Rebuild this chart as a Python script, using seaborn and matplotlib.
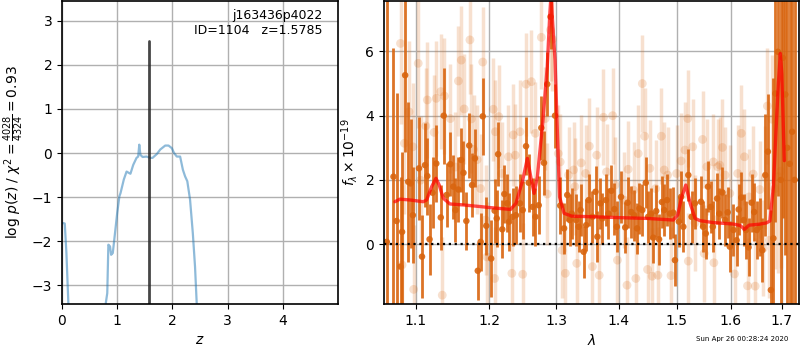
import numpy as np
import pandas as pd
import matplotlib
matplotlib.use("Agg")
import matplotlib.pyplot as plt
from matplotlib.ticker import FixedLocator, FormatStrFormatter, NullLocator
import seaborn as sns

sns.set_style("ticks", {"axes.grid": True, "grid.color": "#b0b0b0",
                        "axes.edgecolor": "black", "text.color": "black",
                        "axes.labelcolor": "black", "xtick.color": "black",
                        "ytick.color": "black"})
plt.rcParams["font.family"] = ["DejaVu Sans"]

# ---- p(z) panel ----
pz_z = [0.0, 0.02, 0.05, 0.08, 0.115, 0.2, 0.5, 0.75, 0.794, 0.82, 0.84, 0.87, 0.89,
        0.92, 0.96, 1.0, 1.04, 1.06, 1.12, 1.17, 1.21, 1.24, 1.29, 1.35, 1.38, 1.40,
        1.42, 1.46, 1.53, 1.60, 1.64, 1.72, 1.78, 1.87, 1.93, 1.99, 2.03, 2.08, 2.14,
        2.19, 2.23, 2.27, 2.32, 2.37, 2.41, 2.44, 2.6, 3.5, 5.0]
pz_logp = [-1.6, -1.59, -1.6, -2.27, -3.4, -8, -8, -8, -3.4, -3.18, -2.08, -2.12, -2.31,
           -2.27, -1.82, -1.36, -0.98, -0.91, -0.6, -0.42, -0.45, -0.47, -0.27, -0.11,
           -0.08, 0.19, -0.04, -0.09, -0.08, -0.11, -0.11, -0.02, 0.08, 0.17, 0.17, 0.11,
           0.0, -0.08, -0.08, -0.38, -0.53, -0.64, -1.06, -1.82, -2.58, -3.4, -8, -8, -8]
z_best = 1.5785
z_line_top = 2.55

# ---- spectrum panel ----
dark_wave = [1.0625, 1.071, 1.075, 1.080, 1.082, 1.086, 1.090, 1.093, 1.096, 1.104, 1.108,
             1.112, 1.115, 1.118, 1.122, 1.127, 1.133, 1.137, 1.141, 1.146, 1.150, 1.153,
             1.157, 1.161, 1.164, 1.168, 1.172, 1.176, 1.180, 1.184, 1.188, 1.191, 1.196,
             1.203, 1.208, 1.211, 1.213, 1.219, 1.222, 1.226, 1.229, 1.234, 1.239, 1.245,
             1.249, 1.254, 1.258, 1.264, 1.268, 1.273, 1.277, 1.281, 1.286, 1.291, 1.298,
             1.306, 1.312, 1.317, 1.321, 1.324, 1.331, 1.335, 1.338, 1.343, 1.347, 1.351,
             1.357, 1.362, 1.365, 1.370, 1.373, 1.379, 1.383, 1.388, 1.393, 1.397, 1.404,
             1.411, 1.415, 1.421, 1.426, 1.431, 1.435, 1.440, 1.446, 1.450, 1.455, 1.459,
             1.464, 1.469, 1.474, 1.478, 1.483, 1.488, 1.494, 1.497, 1.504, 1.508, 1.512,
             1.521, 1.527, 1.533, 1.544, 1.548, 1.553, 1.557, 1.562, 1.566, 1.574, 1.578,
             1.584, 1.589, 1.594, 1.598, 1.605, 1.611, 1.615, 1.620, 1.625, 1.629, 1.634,
             1.640, 1.645, 1.650, 1.656, 1.661, 1.667, 1.672, 1.678, 1.683, 1.687, 1.692,
             1.698, 1.702, 1.707, 1.711, 1.716, 1.721, 1.726]
dark_flux = [0.07, 2.1, 0.72, -0.7, 0.38, 5.26, 1.94, 1.89, 0.90, 2.36, -0.39,
             2.46, 2.12, 0.15, 1.6, 2.51, 0.83, 4.00, 1.53, 2.49, 1.79, 1.06,
             1.7, 2.62, 2.22, 0.72, 3.07, 1.84, 2.67, -0.83, 0.07, 3.98, 0.57,
             -0.45, 1.04, 0.80, 2.80, 0.46, 1.56, 1.27, 0.70, 0.85, 0.90, 1.27,
             1.06, 3.05, 1.91, 1.16, 0.85, 1.21, 3.62, 2.53, 4.98, 7.08, 4.00,
             1.2, 0.49, 1.53, 0.75, 0.95, 0.75, 0.54, 1.06, -0.24, 0.59, 1.37,
             0.85, 1.63, 0.23, 1.27, 0.80, 1.37, 0.95, 1.66, 1.09, 0.54, 1.47,
             0.52, 1.29, 1.00, 0.90, 0.49, 1.11, 1.06, 1.91, 0.85, 0.95, 0.20,
             1.03, 0.15, 1.31, 1.06, 1.37, 0.95, 0.98, -0.50, 0.70, 1.47, 0.54,
             2.15, 0.85, 1.27, 1.32, 0.54, 0.33, 1.79, 1.16, 0.54, 1.42, 0.95,
             1.61, 0.75, 0.99, -0.08, 0.44, 0.12, 1.08, 1.45, 0.75, 0.44, -0.10,
             1.29, 1.00, 0.44, 0.54, -0.19, 2.15, 2.88, -1.43, 0.18, 4.69, 5.99,
             2.0, 5.80, 4.66, 3.0, 2.5, 3.5, 2.0]
dark_err = [9.0, 4.0, 4.0, 2.8, 2.5, 2.4, 2.5, 2.0, 1.5, 1.6, 1.3,
            1.3, 1.2, 1.1, 1.1, 1.2, 1.0, 1.5, 1.0, 1.0, 1.0, 1.0,
            1.0, 1.0, 1.0, 0.9, 1.0, 1.0, 0.9, 0.9, 0.9, 1.2, 0.9,
            1.2, 1.0, 0.9, 1.0, 0.9, 0.9, 0.9, 0.9, 0.9, 0.9, 0.9,
            0.9, 0.9, 0.9, 0.9, 0.9, 0.9, 1.0, 1.0, 1.0, 1.0, 1.0,
            0.9, 0.8, 0.8, 0.8, 0.8, 0.8, 0.8, 0.8, 0.8, 0.8, 0.8,
            0.8, 0.8, 0.8, 0.8, 0.8, 0.8, 0.8, 0.8, 0.8, 0.8, 0.8,
            0.8, 0.8, 0.8, 0.8, 0.8, 0.8, 0.8, 0.8, 0.8, 0.8, 0.8,
            0.8, 0.8, 0.8, 0.8, 0.8, 0.8, 0.8, 0.8, 0.8, 0.8, 0.8,
            0.8, 0.8, 0.8, 0.8, 0.8, 0.8, 0.8, 0.8, 0.8, 0.8, 0.8,
            0.8, 0.8, 0.8, 0.8, 0.8, 0.8, 0.8, 0.8, 0.8, 0.9, 0.9,
            0.9, 0.9, 0.9, 0.9, 1.0, 1.9, 1.8, 2.5, 5.0, 4.0, 4.5,
            6.0, 5.0, 5.0, 6.0, 6.5, 6.5, 7.0]

light_wave = [1.080, 1.082, 1.085, 1.091, 1.096, 1.097, 1.103, 1.106, 1.113, 1.115, 1.124,
              1.127, 1.133, 1.135, 1.138, 1.146, 1.153, 1.157, 1.161, 1.165, 1.173, 1.175,
              1.178, 1.183, 1.188, 1.191, 1.195, 1.197, 1.206, 1.208, 1.209, 1.214, 1.218,
              1.228, 1.233, 1.235, 1.238, 1.245, 1.249, 1.254, 1.262, 1.268, 1.277, 1.283,
              1.286, 1.291, 1.294, 1.303, 1.306, 1.309, 1.314, 1.319, 1.327, 1.329, 1.332,
              1.339, 1.346, 1.352, 1.357, 1.364, 1.368, 1.375, 1.380, 1.390, 1.394, 1.398,
              1.409, 1.414, 1.416, 1.425, 1.429, 1.433, 1.440, 1.444, 1.449, 1.453, 1.457,
              1.463, 1.467, 1.473, 1.478, 1.484, 1.490, 1.500, 1.508, 1.515, 1.520, 1.521,
              1.529, 1.533, 1.547, 1.550, 1.555, 1.567, 1.568, 1.575, 1.579, 1.584, 1.589,
              1.598, 1.607, 1.613, 1.620, 1.626, 1.632, 1.635, 1.643, 1.647, 1.656, 1.663,
              1.667, 1.671, 1.675, 1.680, 1.686, 1.693, 1.698]
light_flux = [6.25, -0.65, 3.14, 4.12, 3.03, -1.41, 5.63, 1.99, 3.68, 4.49, 3.48,
              4.54, 4.75, -1.59, 4.61, 3.91, 2.40, 5.08, 5.73, 4.21, 6.36, 3.90,
              2.95, 2.63, 1.73, 5.67, 0.75, -0.40, 4.20, -1.07, 3.50, 3.97, 2.20,
              2.72, -0.91, 3.40, 2.77, 3.50, -0.94, 4.98, 5.06, 3.45, 6.44, 3.91,
              1.56, 6.67, 6.38, 2.82, 2.56, -0.19, -0.91, 2.15, 2.31, 1.79, -0.60,
              2.53, 2.20, 3.05, -0.70, 2.77, -0.97, 3.95, 2.25, 4.00, 1.84, -0.50,
              1.37, -1.28, 2.33, 1.68, -1.07, 2.82, 5.00, 3.36, -0.79, 2.36, -1.00,
              1.73, -0.97, 3.36, 2.31, 2.15, -0.98, 2.20, 2.59, 2.93, 3.91, -0.53,
              3.03, 0.66, 3.26, -0.29, 2.41, 2.56, -0.58, 2.41, 2.46, 3.01, 2.15,
              1.58, -0.93, 2.20, 3.45, 2.72, -1.30, 1.47, 2.18, -1.31, 1.70, -0.13,
              2.08, 4.30, 0.12, 3.89, 1.73, 2.10, 2.27]
light_err = [2.5, 2.5, 2.2, 2.2, 2.0, 2.0, 2.0, 2.0, 1.8, 1.8, 1.8,
             1.8, 1.8, 1.8, 1.8, 1.7, 1.7, 1.7, 1.7, 1.7, 1.7, 1.7,
             1.7, 1.7, 1.7, 1.7, 1.7, 1.7, 1.6, 1.6, 1.6, 1.6, 1.6,
             1.6, 1.6, 1.6, 1.6, 1.6, 1.6, 1.6, 1.6, 1.6, 1.6, 1.6,
             1.6, 1.6, 1.6, 1.5, 1.5, 1.5, 1.5, 1.5, 1.5, 1.5, 1.5,
             1.5, 1.5, 1.5, 1.5, 1.5, 1.5, 1.5, 1.5, 1.5, 1.5, 1.5,
             1.5, 1.5, 1.5, 1.5, 1.5, 1.5, 1.5, 1.5, 1.5, 1.5, 1.5,
             1.5, 1.5, 1.5, 1.5, 1.5, 1.5, 1.5, 1.5, 1.5, 1.5, 1.5,
             1.5, 1.5, 1.5, 1.5, 1.5, 1.5, 1.5, 1.5, 1.5, 1.5, 1.5,
             1.5, 1.5, 1.5, 1.5, 1.5, 1.5, 1.5, 1.5, 1.5, 1.5, 1.5,
             1.6, 1.8, 1.8, 2.0, 2.5, 3.0, 3.0]

model_wave = [1.0728, 1.0792, 1.0922, 1.1096, 1.1141, 1.1208, 1.1265, 1.1309, 1.1363,
              1.1454, 1.1637, 1.187, 1.200, 1.231, 1.239, 1.249, 1.256, 1.262, 1.266,
              1.271, 1.279, 1.286, 1.290, 1.292, 1.294, 1.298, 1.302, 1.305, 1.312,
              1.324, 1.36, 1.3915, 1.4476, 1.4942, 1.502, 1.5092, 1.5165, 1.5243,
              1.5333, 1.5425, 1.5672, 1.6049, 1.618, 1.626, 1.635, 1.655, 1.669,
              1.676, 1.683, 1.688, 1.693, 1.697, 1.700, 1.705]
model_flux = [1.32, 1.40, 1.375, 1.32, 1.375, 1.79, 2.05, 1.84, 1.43,
              1.25, 1.22, 1.17, 1.14, 1.08, 1.27, 1.99, 2.67, 1.99, 1.58,
              2.1, 3.76, 5.52, 7.2, 7.8, 6.98, 5.73, 3.24, 1.47, 0.96,
              0.87, 0.85, 0.83, 0.80, 0.75, 0.91, 1.48, 1.84, 1.27,
              0.80, 0.73, 0.67, 0.625, 0.58, 0.46, 0.59, 0.62, 0.66,
              0.72, 1.79, 3.45, 5.0, 5.94, 5.3, 2.6]

orange = "#d9650f"

fig = plt.figure(figsize=(8, 3.5), dpi=100)
ax1 = fig.add_axes([0.0775, 0.131, 0.345, 0.866])
ax2 = fig.add_axes([0.48, 0.131, 0.519, 0.866])

# left: p(z)
sns.lineplot(x=pz_z, y=pz_logp, sort=False, estimator=None, ax=ax1,
             color="#1f77b4", alpha=0.5, lw=1.6)
sns.lineplot(x=[z_best, z_best], y=[-3.43, z_line_top], sort=False, estimator=None,
             ax=ax1, color="0.15", alpha=0.85, lw=2)
ax1.set_xlim(0, 5.0)
ax1.set_ylim(-3.43, 3.45)
ax1.set_xticks([0, 1, 2, 3, 4])
ax1.set_yticks([-3, -2, -1, 0, 1, 2, 3])
ax1.set_xlabel(r"$z$")
ax1.set_ylabel(r"log $p(z)$ / $\chi^2=\frac{4028}{4324}=0.93$")
ax1.text(0.945, 0.975, "j163436p4022\nID=1104   z=1.5785", transform=ax1.transAxes,
         ha="right", va="top", fontsize=9, linespacing=1.2)

# right: spectrum
light = pd.DataFrame({"wave": light_wave, "flux": light_flux, "err": light_err})
dark = pd.DataFrame({"wave": dark_wave, "flux": dark_flux, "err": dark_err})

ax2.errorbar(light.wave, light.flux, yerr=light.err, fmt="none", ecolor=orange,
             alpha=0.2, elinewidth=2.5)
sns.scatterplot(data=light, x="wave", y="flux", ax=ax2, color=orange, alpha=0.2,
                s=40, edgecolor="none")
ax2.errorbar(dark.wave, dark.flux, yerr=dark.err, fmt="none", ecolor=orange,
             alpha=0.9, elinewidth=2)
sns.scatterplot(data=dark, x="wave", y="flux", ax=ax2, color=orange, alpha=0.9,
                s=22, edgecolor="none")
sns.lineplot(x=model_wave, y=model_flux, sort=False, estimator=None, ax=ax2,
             color="red", alpha=0.7, lw=2.4)
ax2.axhline(0, color="black", ls=":", lw=1.6)

ax2.set_xscale("log")
ax2.set_xlim(1.059, 1.7355)
ax2.set_ylim(-1.87, 7.57)
ax2.xaxis.set_major_locator(FixedLocator([1.1, 1.2, 1.3, 1.4, 1.5, 1.6, 1.7]))
ax2.xaxis.set_major_formatter(FormatStrFormatter("%.1f"))
ax2.xaxis.set_minor_locator(NullLocator())
ax2.set_yticks([0, 2, 4, 6])
ax2.set_xlabel(r"$\lambda$")
ax2.set_ylabel(r"$f_\lambda\times10^{-19}$")

for ax in (ax1, ax2):
    ax.grid(True, color="#b0b0b0", lw=1)
    ax.set_axisbelow(True)
    for s in ax.spines.values():
        s.set_linewidth(1.2)

fig.text(0.985, 0.03, "Sun Apr 26 00:28:24 2020", ha="right", va="center", fontsize=5)

fig.savefig("out.png", dpi=100)
